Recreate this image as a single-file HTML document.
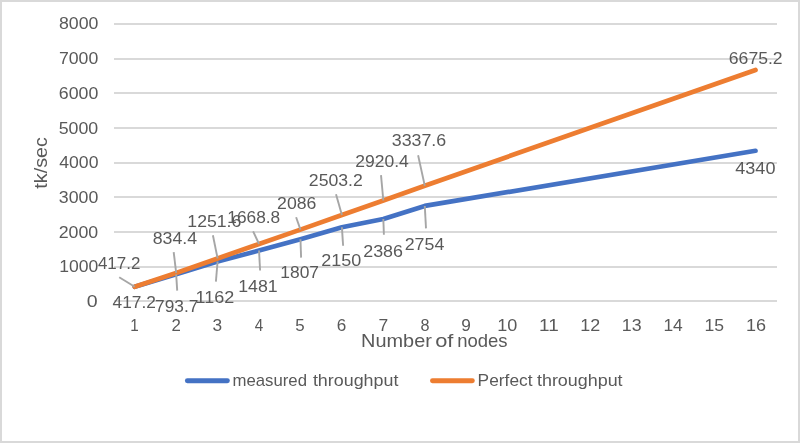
<!DOCTYPE html>
<html><head><meta charset="utf-8"><title>Throughput vs number of nodes</title>
<style>html,body{margin:0;padding:0;background:#fff;overflow:hidden;}svg{display:block;will-change:transform;}text{font-family:"Liberation Sans",sans-serif;fill:#595959;}</style></head><body>
<svg width="800" height="443" viewBox="0 0 800 443">
<rect x="0" y="0" width="800" height="443" fill="#fff"/>
<!-- chart border -->
<rect x="1" y="1" width="798" height="441" fill="none" stroke="#D9D9D9" stroke-width="2"/>
<!-- gridlines -->
<rect x="114.0" y="300" width="663.0" height="2" fill="#D9D9D9"/>
<rect x="114.0" y="266" width="663.0" height="2" fill="#D9D9D9"/>
<rect x="114.0" y="231" width="663.0" height="2" fill="#D9D9D9"/>
<rect x="114.0" y="196" width="663.0" height="2" fill="#D9D9D9"/>
<rect x="114.0" y="162" width="663.0" height="2" fill="#D9D9D9"/>
<rect x="114.0" y="127" width="663.0" height="2" fill="#D9D9D9"/>
<rect x="114.0" y="92" width="663.0" height="2" fill="#D9D9D9"/>
<rect x="114.0" y="58" width="663.0" height="2" fill="#D9D9D9"/>
<rect x="114.0" y="23" width="663.0" height="2" fill="#D9D9D9"/>
<!-- series -->
<polyline points="134.72,286.75 176.16,274.32 217.59,261.52 259.03,250.52 300.47,239.28 341.91,227.31 383.34,219.03 424.78,205.94 755.53,150.78" fill="none" stroke="#4472C4" stroke-width="4.70" stroke-linecap="round" stroke-linejoin="round"/>
<polyline points="134.72,286.75 176.16,272.91 217.59,258.41 259.03,244.02 300.47,229.62 341.91,215.08 383.34,200.53 424.78,185.74 755.53,69.92" fill="none" stroke="#ED7D31" stroke-width="4.70" stroke-linecap="round" stroke-linejoin="round"/>
<!-- leader lines -->
<line x1="119.20" y1="277.20" x2="134.72" y2="286.75" stroke="#A6A6A6" stroke-width="1.90"/>
<line x1="173.70" y1="252.10" x2="176.16" y2="272.91" stroke="#A6A6A6" stroke-width="1.90"/>
<line x1="212.90" y1="235.30" x2="217.59" y2="258.41" stroke="#A6A6A6" stroke-width="1.90"/>
<line x1="253.10" y1="231.40" x2="259.03" y2="244.02" stroke="#A6A6A6" stroke-width="1.90"/>
<line x1="296.10" y1="217.20" x2="300.47" y2="229.62" stroke="#A6A6A6" stroke-width="1.90"/>
<line x1="336.00" y1="194.20" x2="341.91" y2="215.08" stroke="#A6A6A6" stroke-width="1.90"/>
<line x1="381.00" y1="175.20" x2="383.34" y2="200.53" stroke="#A6A6A6" stroke-width="1.90"/>
<line x1="418.10" y1="155.30" x2="424.78" y2="185.74" stroke="#A6A6A6" stroke-width="1.90"/>
<line x1="176.16" y1="274.32" x2="177.20" y2="290.60" stroke="#A6A6A6" stroke-width="1.90"/>
<line x1="217.59" y1="261.52" x2="215.90" y2="281.60" stroke="#A6A6A6" stroke-width="1.90"/>
<line x1="259.03" y1="250.52" x2="260.10" y2="270.50" stroke="#A6A6A6" stroke-width="1.90"/>
<line x1="300.47" y1="239.28" x2="301.10" y2="257.60" stroke="#A6A6A6" stroke-width="1.90"/>
<line x1="341.91" y1="227.31" x2="343.10" y2="245.80" stroke="#A6A6A6" stroke-width="1.90"/>
<line x1="383.34" y1="219.03" x2="383.90" y2="234.70" stroke="#A6A6A6" stroke-width="1.90"/>
<line x1="424.78" y1="205.94" x2="426.00" y2="228.40" stroke="#A6A6A6" stroke-width="1.90"/>
<!-- text -->
<text x="86.85" y="306.80" font-size="17.00" textLength="10.89" lengthAdjust="spacingAndGlyphs">0</text>
<text x="59.26" y="272.10" font-size="17.00" textLength="39.00" lengthAdjust="spacingAndGlyphs">1000</text>
<text x="58.76" y="237.60" font-size="17.00" textLength="39.49" lengthAdjust="spacingAndGlyphs">2000</text>
<text x="58.80" y="202.90" font-size="17.00" textLength="39.46" lengthAdjust="spacingAndGlyphs">3000</text>
<text x="59.28" y="167.90" font-size="17.00" textLength="39.17" lengthAdjust="spacingAndGlyphs">4000</text>
<text x="58.74" y="133.60" font-size="17.00" textLength="39.52" lengthAdjust="spacingAndGlyphs">5000</text>
<text x="58.84" y="98.50" font-size="17.00" textLength="39.47" lengthAdjust="spacingAndGlyphs">6000</text>
<text x="58.94" y="63.70" font-size="17.00" textLength="39.31" lengthAdjust="spacingAndGlyphs">7000</text>
<text x="58.98" y="28.80" font-size="17.00" textLength="39.42" lengthAdjust="spacingAndGlyphs">8000</text>
<text x="130.27" y="331.00" font-size="17.00" textLength="8.50" lengthAdjust="spacingAndGlyphs">1</text>
<text x="171.54" y="331.00" font-size="17.00" textLength="9.37" lengthAdjust="spacingAndGlyphs">2</text>
<text x="212.60" y="331.00" font-size="17.00" textLength="9.63" lengthAdjust="spacingAndGlyphs">3</text>
<text x="254.79" y="331.00" font-size="17.00" textLength="8.46" lengthAdjust="spacingAndGlyphs">4</text>
<text x="295.21" y="331.00" font-size="17.00" textLength="9.41" lengthAdjust="spacingAndGlyphs">5</text>
<text x="336.80" y="331.00" font-size="17.00" textLength="9.54" lengthAdjust="spacingAndGlyphs">6</text>
<text x="378.47" y="331.00" font-size="17.00" textLength="9.73" lengthAdjust="spacingAndGlyphs">7</text>
<text x="420.53" y="331.00" font-size="17.00" textLength="9.02" lengthAdjust="spacingAndGlyphs">8</text>
<text x="461.33" y="331.00" font-size="17.00" textLength="9.62" lengthAdjust="spacingAndGlyphs">9</text>
<text x="497.25" y="331.00" font-size="17.00" textLength="20.06" lengthAdjust="spacingAndGlyphs">10</text>
<text x="539.11" y="331.00" font-size="17.00" textLength="19.64" lengthAdjust="spacingAndGlyphs">11</text>
<text x="580.19" y="331.00" font-size="17.00" textLength="19.93" lengthAdjust="spacingAndGlyphs">12</text>
<text x="621.78" y="331.00" font-size="17.00" textLength="19.77" lengthAdjust="spacingAndGlyphs">13</text>
<text x="663.43" y="331.00" font-size="17.00" textLength="19.38" lengthAdjust="spacingAndGlyphs">14</text>
<text x="704.58" y="331.00" font-size="17.00" textLength="19.59" lengthAdjust="spacingAndGlyphs">15</text>
<text x="745.91" y="331.00" font-size="17.00" textLength="20.08" lengthAdjust="spacingAndGlyphs">16</text>
<text x="97.89" y="269.00" font-size="17.00" textLength="42.46" lengthAdjust="spacingAndGlyphs">417.2</text>
<text x="152.78" y="243.70" font-size="17.00" textLength="44.36" lengthAdjust="spacingAndGlyphs">834.4</text>
<text x="187.38" y="226.80" font-size="17.00" textLength="53.96" lengthAdjust="spacingAndGlyphs">1251.6</text>
<text x="227.31" y="222.70" font-size="17.00" textLength="52.87" lengthAdjust="spacingAndGlyphs">1668.8</text>
<text x="277.08" y="209.00" font-size="17.00" textLength="39.29" lengthAdjust="spacingAndGlyphs">2086</text>
<text x="308.87" y="186.00" font-size="17.00" textLength="53.98" lengthAdjust="spacingAndGlyphs">2503.2</text>
<text x="355.19" y="166.90" font-size="17.00" textLength="53.56" lengthAdjust="spacingAndGlyphs">2920.4</text>
<text x="391.76" y="145.90" font-size="17.00" textLength="54.48" lengthAdjust="spacingAndGlyphs">3337.6</text>
<text x="728.81" y="63.80" font-size="17.00" textLength="53.87" lengthAdjust="spacingAndGlyphs">6675.2</text>
<text x="112.60" y="307.70" font-size="17.00" textLength="43.33" lengthAdjust="spacingAndGlyphs">417.2</text>
<text x="155.04" y="311.60" font-size="17.00" textLength="43.35" lengthAdjust="spacingAndGlyphs">793.7</text>
<text x="195.60" y="302.60" font-size="17.00" textLength="38.74" lengthAdjust="spacingAndGlyphs">1162</text>
<text x="238.24" y="291.60" font-size="17.00" textLength="39.48" lengthAdjust="spacingAndGlyphs">1481</text>
<text x="280.27" y="278.40" font-size="17.00" textLength="38.73" lengthAdjust="spacingAndGlyphs">1807</text>
<text x="321.17" y="266.30" font-size="17.00" textLength="40.01" lengthAdjust="spacingAndGlyphs">2150</text>
<text x="363.20" y="256.50" font-size="17.00" textLength="39.78" lengthAdjust="spacingAndGlyphs">2386</text>
<text x="404.73" y="250.00" font-size="17.00" textLength="39.57" lengthAdjust="spacingAndGlyphs">2754</text>
<text x="735.30" y="173.60" font-size="17.00" textLength="40.13" lengthAdjust="spacingAndGlyphs">4340</text>
<text x="361.10" y="346.70" font-size="19.00" textLength="70.75" lengthAdjust="spacingAndGlyphs">Number</text>
<text x="435.20" y="346.70" font-size="19.00" textLength="18.24" lengthAdjust="spacingAndGlyphs">of</text>
<text x="457.20" y="346.70" font-size="19.00" textLength="50.44" lengthAdjust="spacingAndGlyphs">nodes</text>
<text x="232.45" y="386.00" font-size="16.20" textLength="74.53" lengthAdjust="spacingAndGlyphs">measured</text>
<text x="312.92" y="386.00" font-size="16.20" textLength="85.49" lengthAdjust="spacingAndGlyphs">throughput</text>
<text x="477.63" y="386.00" font-size="16.20" textLength="54.90" lengthAdjust="spacingAndGlyphs">Perfect</text>
<text x="536.96" y="386.00" font-size="16.20" textLength="85.65" lengthAdjust="spacingAndGlyphs">throughput</text>
<text transform="translate(47.2,188.7) rotate(-90)" font-size="19" textLength="51.6" lengthAdjust="spacingAndGlyphs">tk/sec</text>
<!-- legend -->
<line x1="187.35" y1="380.8" x2="227.4" y2="380.8" stroke="#4472C4" stroke-width="4.90" stroke-linecap="round"/>
<line x1="432.45" y1="380.75" x2="472.35" y2="380.75" stroke="#ED7D31" stroke-width="4.90" stroke-linecap="round"/>
</svg></body></html>
